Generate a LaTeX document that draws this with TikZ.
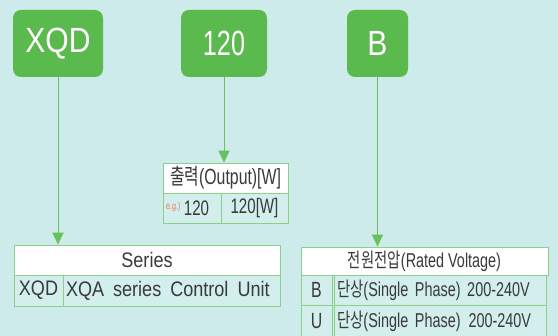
\documentclass[tikz,border=0pt]{standalone}
\usepackage{fontspec}
\setmainfont{Liberation Sans}
\newfontfamily\semi{Liberation Sans}[FakeStretch=0.86]
\newfontfamily\narrow{Liberation Sans}[FakeStretch=0.72]
\newfontfamily\kr{Noto Sans CJK KR}[FakeStretch=0.72]
\usetikzlibrary{arrows.meta,positioning}

\definecolor{bgcyan}{HTML}{CDEBEA}
\definecolor{rowfill}{HTML}{D2EEED}
\definecolor{boxgreen}{HTML}{5BBA4E}
\definecolor{cellborder}{HTML}{8CCF87}
\definecolor{linegreen}{HTML}{66C25C}
\definecolor{txtgray}{HTML}{3A3A3A}
\definecolor{egorange}{HTML}{EE7A50}

\tikzset{
  greenbox/.style={fill=boxgreen, rounded corners=8pt, text=white, inner sep=0pt,
    minimum height=67pt, font=\semi\fontsize{35}{40}\selectfont},
  cell/.style={draw=cellborder, line width=0.8pt, fill=rowfill, inner sep=0pt,
    text=txtgray},
  headcell/.style={cell, fill=white},
  lcell/.style={cell, inner xsep=3pt, align=left},
  pointer/.style={draw=linegreen, line width=0.9pt,
    -{Triangle[length=12pt,width=11pt]}, color=linegreen}
}

\begin{document}
\begin{tikzpicture}[x=1pt, y=-1pt]
  \fill[bgcyan] (0,0) rectangle (558,336);
  \useasboundingbox (0,0) rectangle (558,336);

  % code boxes
  \node[greenbox, minimum width=90pt] (xqd) at (58,43.5) {XQD};
  \node[greenbox, minimum width=86pt, font=\narrow\fontsize{35}{40}\selectfont] (watt) at (224,43.5) {120};
  \node[greenbox, minimum width=61pt] (volt) at (377.5,43.5) {B};

  % output table
  \node[headcell, minimum width=125pt, minimum height=30pt,
        font=\narrow\fontsize{22}{24}\selectfont] (outhead) at (225.5,178) {{\kr 출력}(Output)[W]};
  \node[lcell, minimum height=30pt, text width=52pt,
        font=\narrow\fontsize{21}{24}\selectfont] (outeg) at (192,208)
        {\raisebox{6pt}{\textcolor{egorange}{\fontsize{10}{10}\selectfont e.g.)}}\,120};
  \node[cell, minimum width=67pt, minimum height=30pt,
        font=\narrow\fontsize{21}{24}\selectfont] (outval) at (254.5,208) {120[W]};

  % series table
  \node[headcell, minimum width=266pt, minimum height=30pt,
        font=\semi\fontsize{21}{24}\selectfont] (serhead) at (147,260) {Series};
  \node[cell, minimum width=49pt, minimum height=31pt,
        font=\semi\fontsize{21}{24}\selectfont] (sercode) at (38.5,290.5) {XQD};
  \node[lcell, minimum height=31pt, text width=211pt,
        font=\semi\fontsize{21}{24}\selectfont] (serdesc) at (171.5,290.5)
        {\spaceskip=9pt XQA series Control Unit};

  % voltage table
  \node[headcell, minimum width=247pt, minimum height=28pt,
        font=\narrow\fontsize{20}{24}\selectfont] (volhead) at (424.5,261) {{\kr 전원전압}(Rated Voltage)};
  \node[cell, minimum width=31pt, minimum height=30pt,
        font=\narrow\fontsize{22}{24}\selectfont] (volb) at (316.5,290) {B};
  \node[lcell, minimum height=30pt, text width=206pt,
        font=\narrow\fontsize{20}{24}\selectfont] (volbdesc) at (440,290)
        {{\kr 단상}(Single Phase) 200-240V};
  \node[cell, minimum width=31pt, minimum height=32pt,
        font=\narrow\fontsize{22}{24}\selectfont] (volu) at (316.5,321) {U};
  \node[lcell, minimum height=32pt, text width=206pt,
        font=\narrow\fontsize{20}{24}\selectfont] (voludesc) at (440,321)
        {{\kr 단상}(Single Phase)\hspace{8pt}200-240V};

  % pointers
  \draw[pointer] (xqd.south) -- (xqd.south |- serhead.north);
  \draw[pointer] (watt.south) -- (watt.south |- outhead.north);
  \draw[pointer] (volt.south) -- (volt.south |- volhead.north);
\end{tikzpicture}
\end{document}
